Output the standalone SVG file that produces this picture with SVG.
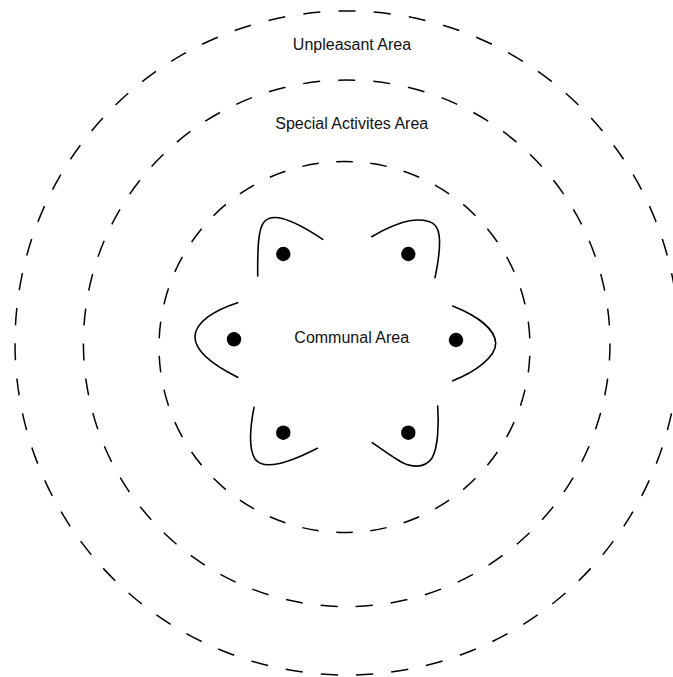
<svg xmlns="http://www.w3.org/2000/svg" width="673" height="677" viewBox="0 0 673 677">
<style>
.ring{fill:none;stroke:#000;stroke-width:1.5;stroke-dasharray:17 18}
.seat{fill:none;stroke:#000;stroke-width:1.6;stroke-linecap:round}
.dot{fill:#000}
.lbl{font-family:"Liberation Sans",Arial,sans-serif;font-size:16px;fill:#111;text-anchor:middle}
</style>
<rect width="673" height="677" fill="#fff"/>
<g id="areas">
<circle id="unpleasant-ring" class="ring" cx="347" cy="343" r="332" pathLength="2065" stroke-dashoffset="-0.25"/>
<circle id="special-ring" class="ring" cx="346.7" cy="343.3" r="263.3" pathLength="1645" stroke-dashoffset="-0.25"/>
<circle id="communal-ring" class="ring" cx="344.5" cy="347" r="185.5" pathLength="1190" stroke-dashoffset="-9"/>
</g>
<g id="labels">
<text id="unpleasant-label" class="lbl" x="352" y="50">Unpleasant Area</text>
<text id="special-label" class="lbl" x="351.7" y="128.5">Special Activites Area</text>
<text id="communal-label" class="lbl" x="351.7" y="343.3">Communal Area</text>
</g>
<g id="seat-top-left">
<path class="seat" d="M257.7,276 C257.5,250 258,229 264,222 C271,214 286,215 322.7,239.3"/>
<circle class="dot" cx="283.3" cy="254" r="7.2"/>
</g>
<g id="seat-top-right">
<path class="seat" d="M371.7,236.7 C390,226 405,220 418,220 C434,220 439,226 439.5,240 C440,255 437,268 435,277.7"/>
<circle class="dot" cx="408.3" cy="254" r="7.2"/>
</g>
<g id="seat-left">
<path class="seat" d="M237.7,302.7 C215,310 195,322 195,337 C195,352 215,366 237.7,377.3"/>
<circle class="dot" cx="234" cy="339.3" r="7.2"/>
</g>
<g id="seat-right">
<path class="seat" d="M452.7,306 C475,315 495,328 495.7,343 C496,357 475,372 452.7,380.7"/>
<circle class="dot" cx="456" cy="340" r="7.2"/>
</g>
<g id="seat-bottom-left">
<path class="seat" d="M254,407.3 C250,428 248,448 255,459 C263,470 285,465 317.3,448.3"/>
<circle class="dot" cx="283.3" cy="432.7" r="7.2"/>
</g>
<g id="seat-bottom-right">
<path class="seat" d="M437.7,406 C439,425 438,448 432,458 C424,470 408,467 398,460 C388,454 380,448 372.3,442.7"/>
<circle class="dot" cx="408.3" cy="432.7" r="7.2"/>
</g>
</svg>
